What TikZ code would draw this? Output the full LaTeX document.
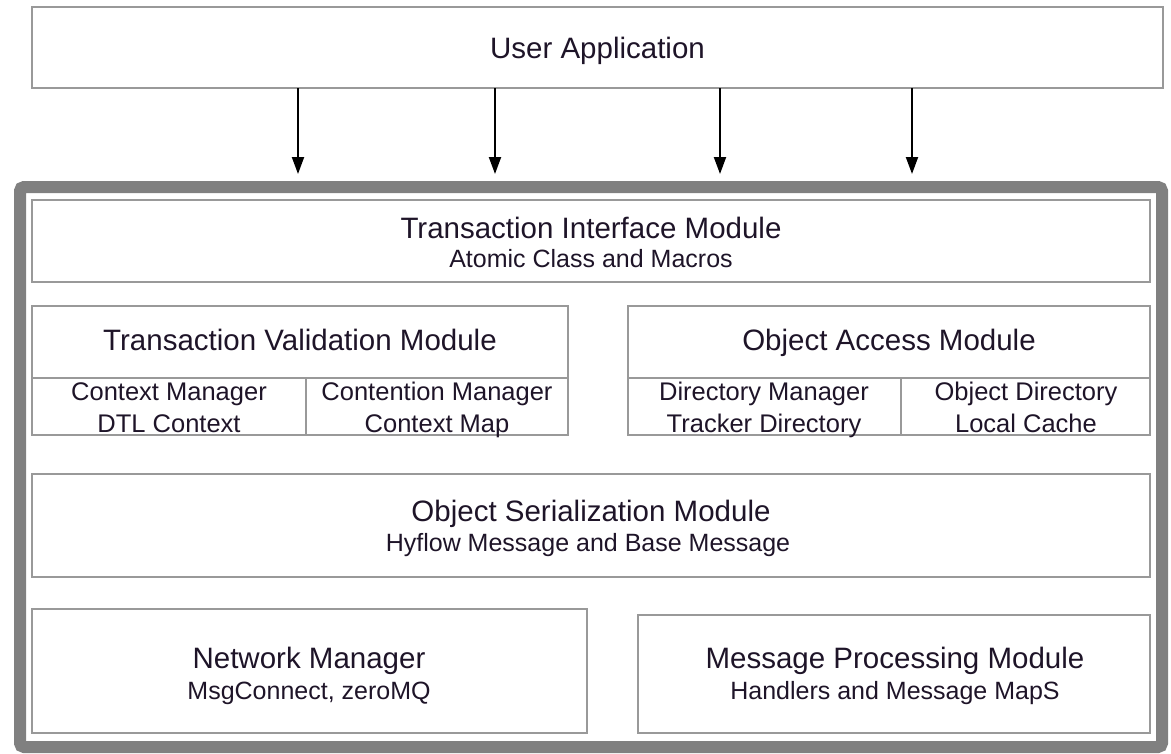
\documentclass[tikz,border=0pt]{standalone}
\usepackage{fontspec}
\setmainfont{Liberation Sans}
\usetikzlibrary{arrows.meta}
\definecolor{framegray}{HTML}{808080}
\definecolor{boxgray}{HTML}{999999}
\definecolor{txt}{HTML}{1E1428}
\begin{document}
\begin{tikzpicture}[x=1pt,y=-1pt,
  box/.style={draw=boxgray, line width=2pt, rectangle, inner sep=0pt},
  sep/.style={draw=boxgray, line width=2pt},
  title/.style={text=txt, font=\fontsize{29.5}{32}\selectfont, inner sep=0pt, anchor=base},
  sub/.style={text=txt, font=\fontsize{25}{28}\selectfont, inner sep=0pt, anchor=base},
  cell/.style={text=txt, font=\fontsize{25.5}{31}\selectfont, inner sep=0pt, anchor=base},
  arr/.style={line width=2pt, -{Triangle[width=12pt,length=17pt]}},
  frame/.style={draw=framegray, line width=12pt, rounded corners=4pt}]
\useasboundingbox (0,0) rectangle (1171,753);
% outer frame
\node[frame, minimum width=1142pt, minimum height=560pt, inner sep=0pt] (fr) at (591,467) {};
% user application
\node[box, minimum width=1131pt, minimum height=81pt] (ua) at (597.5,47.5) {};
\node[title] (uat) at (597.5,58) {User Application};
% arrows
\foreach \x/\n in {298/a1,495/a2,720/a3,912/a4}{
  \coordinate (\n s) at (\x,88);
  \coordinate (\n e) at (\x,174);
  \draw[arr] (\n s) -- (\n e);
}
% transaction interface
\node[box, minimum width=1118pt, minimum height=82pt] (tim) at (591,241) {};
\node[title] (timt) at (591,238) {Transaction Interface Module};
\node[sub] (tims) at (591,267) {Atomic Class and Macros};
% validation
\node[box, minimum width=536pt, minimum height=129pt] (tvm) at (300,370.5) {};
\node[title] (tvmt) at (300,350) {Transaction Validation Module};
\draw[sep] (32,378) coordinate (tvl) -- (568,378) coordinate (tvr);
\draw[sep] (306,378) coordinate (tvt) -- (306,435) coordinate (tvb);
\node[cell] (c1a) at (169,400) {Context Manager};
\node[cell] (c1b) at (169,432) {DTL Context};
\node[cell] (c2a) at (437,400) {Contention Manager};
\node[cell] (c2b) at (437,432) {Context Map};
% object access
\node[box, minimum width=522pt, minimum height=129pt] (oam) at (889,370.5) {};
\node[title] (oamt) at (889,350) {Object Access Module};
\draw[sep] (628,378) coordinate (oal) -- (1150,378) coordinate (oar);
\draw[sep] (901,378) coordinate (oat) -- (901,435) coordinate (oab);
\node[cell] (c3a) at (764,400) {Directory Manager};
\node[cell] (c3b) at (764,432) {Tracker Directory};
\node[cell] (c4a) at (1026,400) {Object Directory};
\node[cell] (c4b) at (1026,432) {Local Cache};
% serialization
\node[box, minimum width=1118pt, minimum height=103pt] (osm) at (591,525.5) {};
\node[title] (osmt) at (591,521) {Object Serialization Module};
\node[sub] (osms) at (588,551) {Hyflow Message and Base Message};
% network manager
\node[box, minimum width=555pt, minimum height=124pt] (nm) at (309.5,671) {};
\node[title] (nmt) at (309,668) {Network Manager};
\node[sub] (nms) at (309,699) {MsgConnect, zeroMQ};
% message processing
\node[box, minimum width=512pt, minimum height=118pt] (mpm) at (894,674) {};
\node[title] (mpmt) at (895,668) {Message Processing Module};
\node[sub] (mpms) at (895,699) {Handlers and Message MapS};
\end{tikzpicture}
\end{document}
